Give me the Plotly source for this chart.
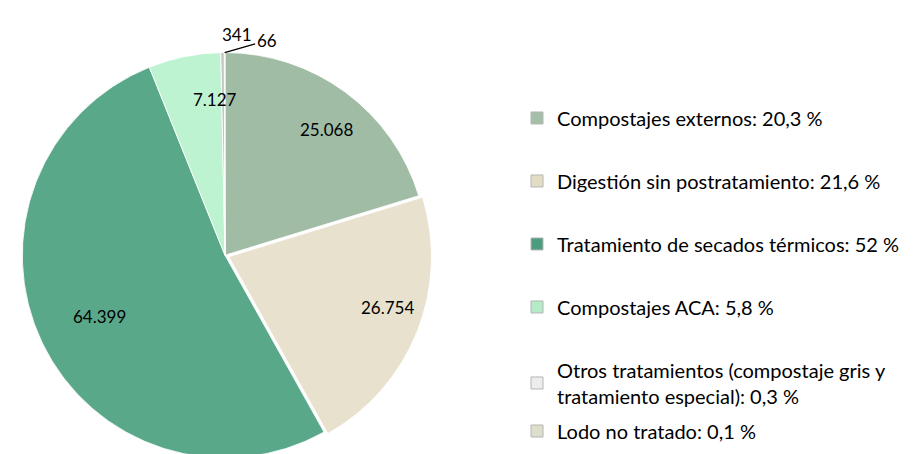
import math
import plotly.graph_objects as go

categories = [
    "Compostajes externos",
    "Digestión sin postratamiento",
    "Tratamiento de secados térmicos",
    "Compostajes ACA",
    "Otros tratamientos (compostaje gris y tratamiento especial)",
    "Lodo no tratado",
]
values = [25068, 26754, 64399, 7127, 341, 66]
legend_labels = [
    "Compostajes externos: 20,3 %",
    "Digestión sin postratamiento: 21,6 %",
    "Tratamiento de secados térmicos: 52 %",
    "Compostajes ACA: 5,8 %",
    "Otros tratamientos (compostaje gris y<br>tratamiento especial): 0,3 %",
    "Lodo no tratado: 0,1 %",
]
colors = ["#A0BCA5", "#E7E1CD", "#5AA88A", "#BEF3D1", "#C4C4C4", "#D8D8C6"]
legend_colors = ["#A3BFA8", "#E4DDC6", "#4E9C7E", "#B6EBC9", "#EDEDED", "#DEDECC"]
pulls = [0, 0.02, 0, 0, 0, 0]

W, H = 915, 454
FONT = "Lato"
DOM_X = [0.0109, 0.4634]
DOM_Y = [0.0, 0.9108]

fig = go.Figure()
fig.add_trace(go.Pie(
    labels=categories,
    values=values,
    sort=False,
    direction="clockwise",
    rotation=0,
    pull=pulls,
    marker=dict(colors=colors, line=dict(color="rgba(255,255,255,0.85)", width=1)),
    textinfo="none",
    showlegend=False,
    domain=dict(x=DOM_X, y=DOM_Y),
    hoverinfo="label+value+percent",
))

# pie geometry (pixels) derived from the domain, used to place the value labels
cx = W * (DOM_X[0] + DOM_X[1]) / 2
cy = H * (1 - (DOM_Y[0] + DOM_Y[1]) / 2)
R = min(W * (DOM_X[1] - DOM_X[0]), H * (DOM_Y[1] - DOM_Y[0])) / 2 / (1 + max(pulls))
total = sum(values)

def fmt(v):
    return f"{v:,}".replace(",", ".")

cum = 0
for i, v in enumerate(values):
    mid = 2 * math.pi * (cum + v / 2) / total
    cum += v
    sx, sy = math.sin(mid), -math.cos(mid)
    px_off = pulls[i] * R
    if i < 4:
        r = 0.845 * R + px_off
        x = (cx + r * sx) / W
        y = 1 - (cy + r * sy) / H
        fig.add_annotation(x=x, y=y, xref="paper", yref="paper", text=fmt(v),
                           showarrow=False, font=dict(family=FONT, size=17, color="#000000"))
    elif i == 4:
        x = (cx + R * sx) / W
        y = 1 - (cy + R * sy) / H
        fig.add_annotation(x=x, y=y, xref="paper", yref="paper", text=fmt(v),
                           showarrow=False, yanchor="bottom", yshift=6, xshift=-3,
                           font=dict(family=FONT, size=17, color="#000000"))
    else:
        x = (cx + R * sx) / W
        y = 1 - (cy + R * sy) / H
        fig.add_annotation(x=x, y=y, xref="paper", yref="paper", text=fmt(v),
                           showarrow=True, arrowhead=0, arrowwidth=1.3, arrowcolor="#000000",
                           ax=42, ay=-12, standoff=0,
                           font=dict(family=FONT, size=17, color="#000000"))

for i, (lab, col) in enumerate(zip(legend_labels, legend_colors)):
    fig.add_trace(go.Scatter(
        x=[None], y=[None], mode="markers", name=lab,
        marker=dict(symbol="square", size=12, color=col, line=dict(color="#B5B5B5", width=1)),
        legendgroup=f"g{i}",
        legend="legend2" if i == len(legend_labels) - 1 else "legend",
        showlegend=True,
    ))

fig.update_layout(
    width=W, height=H,
    margin=dict(l=0, r=0, t=0, b=0),
    paper_bgcolor="white", plot_bgcolor="white",
    xaxis=dict(visible=False), yaxis=dict(visible=False),
    legend=dict(
        x=0.5563, y=0.8007, xanchor="left", yanchor="top",
        font=dict(family=FONT, size=20, color="#000000"),
        tracegroupgap=34, bgcolor="rgba(0,0,0,0)",
    ),
    legend2=dict(
        x=0.5563, y=0.1112, xanchor="left", yanchor="top",
        font=dict(family=FONT, size=20, color="#000000"),
        bgcolor="rgba(0,0,0,0)",
    ),
)

fig.write_html("out.html")
